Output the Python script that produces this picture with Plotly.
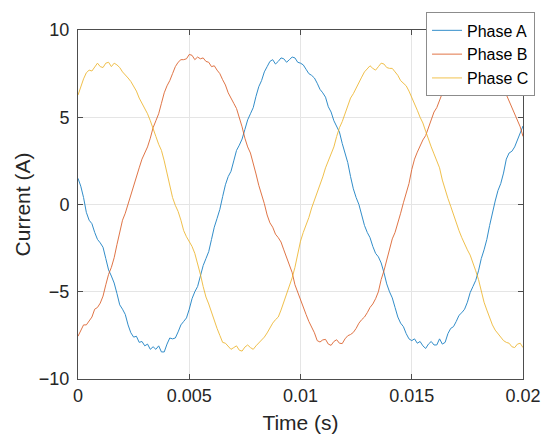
import plotly.graph_objects as go

# time axis (s), sampled every 0.125 ms
time_s = [round(i * 0.000125, 6) for i in range(161)]

phase_a = [1.5, 1.05, 0.4, -0.45, -0.9, -1.1, -1.6, -2.0, -2.2, -2.45,
           -3.1, -3.75, -4.1, -4.5, -5.1, -5.75, -6.0, -6.3, -6.9, -7.35,
           -7.6, -7.55, -7.9, -7.85, -8.1, -8.0, -8.3, -8.15, -8.3, -8.1,
           -8.45, -8.45, -8.0, -7.65, -7.7, -7.65, -7.3, -6.9, -6.7, -6.5,
           -6.0, -5.4, -5.0, -4.7, -4.1, -3.5, -3.1, -2.7, -2.0, -1.3,
           -0.8, -0.28, 0.45, 1.13, 1.6, 1.9, 2.5, 3.1, 3.4, 3.75,
           4.3, 4.85, 5.2, 5.55, 6.2, 6.75, 7.1, 7.6, 7.9, 8.2,
           8.3, 8.05, 8.2, 8.4, 8.35, 8.15, 8.3, 8.45, 8.4, 8.15,
           8.1, 8.0, 7.75, 7.5, 7.4, 7.25, 6.95, 6.6, 6.4, 6.15,
           5.6, 5.3, 4.8, 4.5, 4.15, 3.5, 3.0, 2.4, 1.6, 0.9,
           0.4, 0.0, -0.6, -1.2, -1.6, -1.9, -2.4, -2.8, -3.0, -3.35,
           -3.9, -4.55, -5.0, -5.35, -5.9, -6.45, -6.8, -7.0, -7.4, -7.7,
           -7.8, -7.7, -7.95, -7.85, -8.1, -8.25, -8.0, -7.85, -8.05, -8.05,
           -7.7, -8.0, -7.9, -7.4, -7.1, -7.0, -6.7, -6.35, -6.2, -6.0,
           -5.6, -5.05, -4.7, -4.35, -3.8, -3.1, -2.6, -2.0, -1.2, -0.4,
           0.2, 0.8, 1.2, 1.8, 2.6, 2.95, 3.05, 3.3, 3.7, 4.2,
           4.5]

phase_b = [-7.55, -7.2, -6.9, -6.9, -6.7, -6.45, -6.0, -5.9, -5.65, -5.25,
           -4.6, -4.0, -3.6, -3.05, -2.3, -1.5, -0.9, -0.5, 0.05, 0.6,
           1.0, 1.6, 2.1, 2.6, 2.95, 3.3, 3.8, 4.4, 4.8, 5.2,
           5.8, 6.4, 6.8, 7.1, 7.5, 7.9, 8.15, 8.3, 8.3, 8.35,
           8.6, 8.55, 8.3, 8.45, 8.35, 8.4, 8.2, 8.15, 7.9, 7.95,
           7.7, 7.5, 7.15, 6.85, 6.4, 6.05, 5.8, 5.5, 5.0, 4.45,
           3.8, 3.3, 2.95, 2.4, 1.75, 1.1, 0.6, 0.05, -0.6, -1.05,
           -1.3, -1.7, -1.9, -2.15, -2.6, -3.05, -3.4, -3.9, -4.6, -5.05,
           -5.4, -5.9, -6.3, -6.7, -7.0, -7.35, -7.8, -7.88, -7.76, -7.73,
           -8.0, -8.07, -7.85, -7.75, -7.95, -7.97, -7.7, -7.52, -7.45, -7.33,
           -7.1, -6.8, -6.6, -6.45, -6.2, -5.9, -5.7, -5.4, -5.0, -4.3,
           -3.8, -3.18, -2.45, -1.97, -1.6, -1.1, -0.5, 0.1, 0.6, 1.2,
           2.0, 2.6, 3.0, 3.4, 3.7, 3.95, 4.4, 4.9, 5.3, 5.55,
           6.0, 6.45, 6.8, 7.1, 7.5, 7.8, 8.0, 8.1, 8.3, 8.45,
           8.4, 8.2, 8.3, 8.35, 8.2, 8.0, 7.9, 7.75, 7.5, 7.25,
           7.1, 7.0, 6.8, 6.5, 6.3, 5.95, 5.5, 5.15, 4.9, 4.45,
           3.9]

phase_c = [6.27, 6.8, 7.2, 7.55, 7.7, 7.65, 7.9, 8.1, 7.9, 7.85,
           8.1, 8.15, 7.9, 8.1, 8.0, 7.85, 7.6, 7.45, 7.25, 7.05,
           6.8, 6.5, 6.1, 5.8, 5.5, 5.2, 4.8, 4.4, 3.9, 3.45,
           3.1, 2.5, 1.8, 1.05, 0.4, -0.05, -0.4, -0.9, -1.5, -1.85,
           -2.1, -2.4, -2.8, -3.35, -4.0, -4.7, -5.3, -5.7, -6.2, -6.7,
           -7.1, -7.5, -7.9, -7.95, -8.1, -8.3, -8.2, -8.1, -8.35, -8.4,
           -8.17, -8.05, -8.2, -8.3, -8.1, -7.95, -7.8, -7.6, -7.36, -7.05,
           -6.8, -6.6, -6.45, -6.05, -5.6, -5.15, -4.75, -4.2, -3.6, -2.9,
           -2.1, -1.6, -1.2, -0.75, -0.2, 0.25, 0.6, 1.05, 1.58, 2.1,
           2.5, 2.85, 3.3, 3.9, 4.4, 4.75, 5.2, 5.7, 6.1, 6.35,
           6.7, 7.05, 7.3, 7.6, 7.75, 7.95, 7.8, 7.7, 7.9, 8.1,
           8.05, 7.85, 7.8, 7.8, 7.6, 7.4, 7.1, 6.95, 6.8, 6.5,
           6.16, 5.8, 5.4, 5.0, 4.67, 4.2, 3.7, 3.3, 2.9, 2.55,
           2.1, 1.4, 0.8, 0.35, -0.1, -0.6, -1.1, -1.5, -1.9, -2.3,
           -2.6, -2.9, -3.3, -3.8, -4.3, -5.0, -5.6, -6.05, -6.5, -6.9,
           -7.2, -7.4, -7.6, -7.8, -7.9, -7.95, -8.15, -8.2, -8.0, -7.95,
           -8.2]

series_names = ["Phase A", "Phase B", "Phase C"]
series_colors = ["#0072BD", "#D95319", "#EDB120"]

x_tick_vals = [0, 0.005, 0.01, 0.015, 0.02]
x_tick_text = ["0", "0.005", "0.01", "0.015", "0.02"]
y_tick_vals = [-10, -5, 0, 5, 10]
y_tick_text = ["\u221210", "\u22125", "0", "5", "10"]

FONT = "Liberation Sans, Arial, Helvetica, sans-serif"

fig = go.Figure()
for name, vals, col in zip(series_names, [phase_a, phase_b, phase_c], series_colors):
    fig.add_trace(go.Scatter(x=time_s, y=vals, mode="lines", name=name,
                             opacity=0.8, line=dict(color=col, width=1)))

axis_common = dict(showline=True, linecolor="#4d4d4d", linewidth=1, mirror="ticks",
                   ticks="inside", ticklen=5, tickcolor="#4d4d4d",
                   showgrid=True, gridcolor="#e5e5e5", gridwidth=1,
                   zeroline=False, tickfont=dict(family=FONT, size=18, color="#262626"))

fig.update_xaxes(range=[0, 0.02], tickvals=x_tick_vals, ticktext=x_tick_text,
                 title=dict(text="Time (s)", font=dict(family=FONT, size=21, color="#262626"),
                            standoff=10),
                 **axis_common)
fig.update_yaxes(range=[-10, 10], tickvals=y_tick_vals, ticktext=y_tick_text,
                 ticklabelstandoff=4,
                 title=dict(text="Current (A)", font=dict(family=FONT, size=21, color="#262626"),
                            standoff=2),
                 **axis_common)

fig.update_layout(
    width=544, height=444,
    margin=dict(l=78, r=21, t=30, b=65, autoexpand=False),
    paper_bgcolor="white", plot_bgcolor="white",
    showlegend=True,
    legend=dict(xref="container", yref="container",
                x=0.9835, xanchor="right", y=0.972, yanchor="top",
                bgcolor="white", bordercolor="#8c8c8c", borderwidth=1,
                font=dict(family=FONT, size=16, color="#000000"),
                tracegroupgap=0, itemwidth=30),
)

fig.write_html("out.html")
